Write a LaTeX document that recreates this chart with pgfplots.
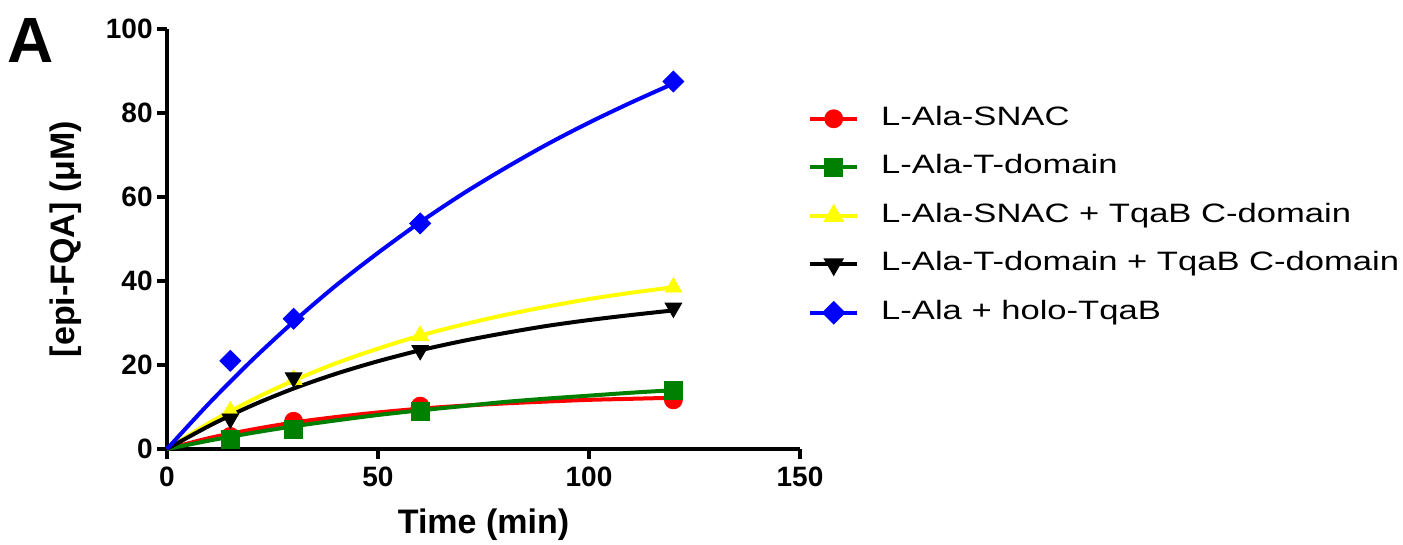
\documentclass[border=0pt]{standalone}
\usepackage{pgfplots}
\pgfplotsset{compat=1.18}
\usepackage{fontspec}
\setmainfont{Liberation Sans}
\newfontfamily\legfont[FakeStretch=1.3]{Liberation Sans}
\definecolor{pred}{RGB}{255,0,0}
\definecolor{pgreen}{RGB}{0,128,0}
\definecolor{pyellow}{RGB}{255,255,0}
\definecolor{pblue}{RGB}{0,0,255}
\begin{document}
\begin{tikzpicture}
\useasboundingbox (0,0) rectangle (701.5pt,272.5pt);
\node[font=\bfseries\fontsize{32}{32}\selectfont, anchor=center] at (15.5pt,252.5pt) {A};
\begin{axis}[
  at={(83.5pt,48pt)}, anchor=south west,
  width=316.5pt, height=210pt, scale only axis,
  xmin=0, xmax=150, ymin=0, ymax=100,
  xtick={0,50,100,150}, ytick={0,20,40,60,80,100},
  axis x line*=bottom, axis y line*=left,
  axis line style={line width=2pt, black},
  tick align=outside, major tick length=5pt,
  every tick/.style={line width=2pt, black},
  /pgf/number format/assume math mode=true,
  tick label style={font=\bfseries\fontsize{14}{16}\selectfont},
  xticklabel style={inner sep=2pt, yshift=-2pt},
  yticklabel style={inner sep=2pt},
  xlabel={Time (min)},
  ylabel={[epi-FQA] (μM)},
  label style={font=\bfseries\fontsize{17}{19}\selectfont},
  xlabel style={at={(axis description cs:0.5,-0.181)}, anchor=center},
  ylabel style={at={(axis description cs:-0.16,0.5)}, anchor=center},
  clip=false,
  legend image code/.code={\draw[mark repeat=2,mark phase=2,#1] plot coordinates {(0pt,0pt)(11.75pt,0pt)(23.5pt,0pt)};},
  legend style={at={(rel axis cs:1.013,0.816)}, anchor=north west, draw=none, fill=none,
    inner sep=0pt, outer sep=0pt, row sep=11.75pt,
    font=\legfont\fontsize{13.3}{15}\selectfont,
    nodes={inner sep=0pt, text height=9.5pt, text depth=3pt, anchor=west},
    /tikz/every odd column/.append style={column sep=11pt}},
  legend cell align=left,
]
% fitted curves
\addplot[pred, line width=2pt, smooth, forget plot] coordinates {(0,0)(10,2.6)(20,4.6)(30,6.3)(40,7.6)(50,8.7)(60,9.6)(70,10.3)(80,10.85)(90,11.3)(100,11.7)(110,11.95)(120,12.2)};
\addplot[pgreen, line width=2pt, smooth, forget plot] coordinates {(0,0)(10,2.0)(20,3.8)(30,5.4)(40,6.8)(50,8.1)(60,9.2)(70,10.2)(80,11.2)(90,12.0)(100,12.7)(110,13.4)(120,14.0)};
\addplot[pyellow, line width=2pt, smooth, forget plot] coordinates {(0,0)(10,6.2)(20,11.6)(30,16.3)(40,20.4)(50,23.9)(60,27.0)(70,29.6)(80,31.9)(90,33.9)(100,35.7)(110,37.2)(120,38.5)};
\addplot[black, line width=2pt, smooth, forget plot] coordinates {(0,0)(10,5.5)(20,10.3)(30,14.4)(40,17.9)(50,20.9)(60,23.5)(70,25.7)(80,27.6)(90,29.3)(100,30.7)(110,31.9)(120,33.0)};
\addplot[pblue, line width=2pt, smooth, forget plot] coordinates {(0,0)(10,10.9)(20,21.0)(30,30.3)(40,38.9)(50,46.7)(60,54.0)(70,60.7)(80,66.8)(90,72.5)(100,77.7)(110,82.5)(120,87.0)};
% data points
\addplot[only marks, mark=*, mark size=4.5pt, pred, forget plot] coordinates {(15,3.0)(30,6.6)(60,10.2)(120,11.7)};
\addplot[only marks, mark=square*, mark size=4.5pt, pgreen, forget plot] coordinates {(15,2.4)(30,4.6)(60,9.0)(120,14.0)};
\addplot[only marks, mark=triangle*, mark size=4.8pt, pyellow, forget plot] coordinates {(15,9.0)(30,16.5)(60,27.0)(120,38.5)};
\addplot[only marks, mark=triangle*, mark size=4.8pt, mark options={rotate=180}, black, forget plot] coordinates {(15,7.2)(30,17.0)(60,23.5)(120,33.6)};
\addplot[only marks, mark=square*, mark size=3.7pt, mark options={rotate=45}, pblue, forget plot] coordinates {(15,21.0)(30,31.0)(60,53.7)(120,87.5)};
% legend
\addlegendimage{pred, line width=2pt, mark=*, mark size=3.7pt}
\addlegendentry{L-Ala-SNAC}
\addlegendimage{pgreen, line width=2pt, mark=square*, mark size=3.7pt}
\addlegendentry{L-Ala-T-domain}
\addlegendimage{pyellow, line width=2pt, mark=triangle*, mark size=4pt}
\addlegendentry{L-Ala-SNAC + TqaB C-domain}
\addlegendimage{black, line width=2pt, mark=triangle*, mark size=4pt, mark options={rotate=180}}
\addlegendentry{L-Ala-T-domain + TqaB C-domain}
\addlegendimage{pblue, line width=2pt, mark=square*, mark size=3.2pt, mark options={rotate=45}}
\addlegendentry{L-Ala + holo-TqaB}
\end{axis}
\end{tikzpicture}
\end{document}
